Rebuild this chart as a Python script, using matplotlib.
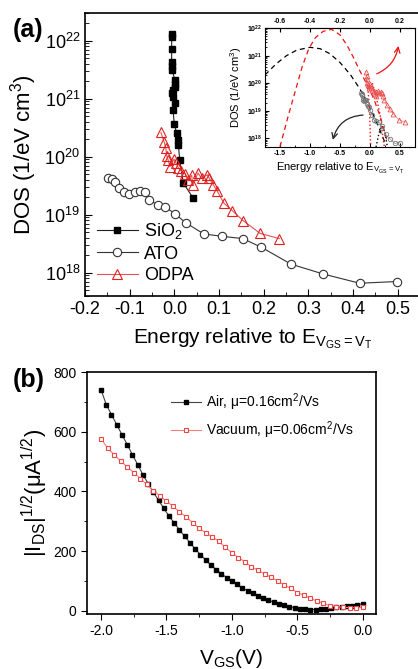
import numpy as np
import matplotlib
matplotlib.use("Agg")
import matplotlib.pyplot as plt
from matplotlib.ticker import MultipleLocator, LogLocator, NullFormatter, FixedLocator, FuncFormatter

plt.rcParams["font.family"] = ["Liberation Sans", "DejaVu Sans"]
plt.rcParams["mathtext.fontset"] = "custom"
plt.rcParams["mathtext.rm"] = "Liberation Sans"
plt.rcParams["mathtext.default"] = "regular"
plt.rcParams["axes.unicode_minus"] = False

# ---- panel (a): DOS vs energy (values as log10) ----
sio2_E = [-0.006, -0.006, -0.006, -0.006, -0.006, -0.005, 0.001, 0.001, 0.001, -0.003,
          -0.006, -0.004, 0.001, -0.003, 0.0, 0.005, 0.008, 0.009, 0.012, 0.020, 0.042]
sio2_log = [22.12, 22.06, 21.86, 21.64, 21.56, 21.50, 21.33, 21.26, 21.21, 21.16,
            21.10, 21.04, 20.93, 20.81, 20.56, 20.41, 20.29, 20.21, 19.95, 19.55, 19.29]

ato_E = [-0.148, -0.140, -0.133, -0.123, -0.113, -0.101, -0.088, -0.077, -0.066, -0.056,
         -0.036, -0.021, 0.001, 0.026, 0.066, 0.106, 0.153, 0.195, 0.261, 0.333, 0.415, 0.499]
ato_log = [19.63, 19.62, 19.57, 19.47, 19.39, 19.36, 19.40, 19.41, 19.39, 19.25,
           19.17, 19.14, 19.02, 18.86, 18.67, 18.63, 18.59, 18.44, 18.15, 17.98, 17.82, 17.85]

odpa_E = [-0.030, -0.023, -0.019, -0.017, -0.014, -0.010, -0.001, 0.004, 0.009, 0.016,
          0.024, 0.030, 0.039, 0.041, 0.053, 0.061, 0.074, 0.078, 0.087, 0.096,
          0.111, 0.130, 0.154, 0.192, 0.235]
odpa_log = [20.42, 20.26, 20.15, 20.02, 19.95, 19.83, 19.96, 19.89, 19.81, 19.75,
            19.71, 19.60, 19.68, 19.52, 19.72, 19.63, 19.69, 19.63, 19.52, 19.41,
            19.20, 19.07, 18.90, 18.68, 18.59]

# inset fit curves (bottom-axis energy, log10 DOS)
blk_dash_E = [-1.75, -1.56, -1.39, -1.22, -1.0, -0.83, -0.67, -0.5, -0.33, -0.17, -0.06, 0.05, 0.15, 0.25]
blk_dash_log = [20.30, 20.71, 21.00, 21.20, 21.30, 21.25, 21.07, 20.75, 20.32, 19.80, 19.35, 18.88, 18.38, 17.85]
red_dash_E = [-1.5, -1.36, -1.25, -1.13, -1.02, -0.91, -0.78, -0.64, -0.5, -0.39, -0.28, -0.17, -0.06, 0.06, 0.17, 0.28]
red_dash_log = [17.70, 18.84, 19.68, 20.60, 21.25, 21.65, 21.88, 21.95, 21.75, 21.40, 20.95, 20.45, 20.00, 19.45, 18.80, 17.95]
red_dot1_E = [-0.06, -0.03, -0.01, 0.0, 0.01]
red_dot1_log = [20.10, 19.68, 19.10, 18.50, 17.70]
red_dot2_E = [0.04, 0.11, 0.17, 0.21, 0.24]
red_dot2_log = [20.00, 19.44, 18.84, 18.12, 17.69]
blk_dot_E = [0.10, 0.15, 0.20, 0.25, 0.29]
blk_dot_log = [17.69, 18.20, 18.45, 18.20, 17.69]
top_ticks = [-0.6, -0.4, -0.2, 0.0, 0.2]

# ---- panel (b): sqrt(I_DS) vs V_GS ----
air_V = np.round(np.arange(-2.0, 0.001, 0.04), 2)
air_I = [741, 691, 657, 624, 590, 557, 523, 490, 456, 426,
         397, 370, 343, 317, 294, 271, 249, 228, 207, 188,
         170, 153, 138, 124, 111, 99, 88, 77, 67, 58,
         50, 42, 35, 29, 23, 18, 14, 10, 7, 5,
         4, 4, 5, 7, 9, 11, 13, 15, 17, 20, 23]
vac_V = np.round(np.arange(-2.0, 0.001, 0.05), 2)
vac_I = [577, 545, 523, 502, 482, 463, 443, 423, 402, 385,
         367, 350, 331, 315, 295, 276, 261, 248, 233, 212,
         195, 178, 164, 147, 136, 123, 112, 100, 86, 75,
         61, 52, 41, 33, 25, 17, 13, 12, 10, 10, 11]

W, H = 418, 669
fig = plt.figure(figsize=(W / 100, H / 100), dpi=100)

# ================= panel (a) =================
ax = fig.add_axes([85 / W, 1 - 296 / H, 335 / W, 283 / H])
ax.plot(sio2_E, np.power(10.0, sio2_log), "-", color="#222222", lw=0.8,
        marker="s", ms=4, mfc="black", mec="black", label="SiO$_2$")
ax.plot(ato_E, np.power(10.0, ato_log), "-", color="#333333", lw=0.8,
        marker="o", ms=6, mfc="white", mec="#333333", mew=0.8, label="ATO")
ax.plot(odpa_E, np.power(10.0, odpa_log), "-", color="#e05555", lw=0.8,
        marker="^", ms=7, mfc="none", mec="#e02020", mew=0.8, label="ODPA")
ax.set_yscale("log")
ax.set_xlim(-0.2, 0.55)
ax.set_ylim(10 ** 17.6, 10 ** 22.48)
ax.xaxis.set_major_locator(MultipleLocator(0.1))
ax.xaxis.set_minor_locator(MultipleLocator(0.05))
ax.xaxis.set_major_formatter(FuncFormatter(lambda v, p: f"{v:.1f}"))
ax.yaxis.set_major_locator(LogLocator(base=10, numticks=10))
ax.yaxis.set_minor_locator(LogLocator(base=10, subs=np.arange(2, 10), numticks=20))
ax.yaxis.set_minor_formatter(NullFormatter())
ax.tick_params(which="both", direction="in", top=False, right=False)
ax.tick_params(which="major", length=5, labelsize=13)
ax.tick_params(which="minor", length=3)
for s in ax.spines.values():
    s.set_linewidth(1.2)
ax.set_xlabel("Energy relative to E$_{V_{GS}=V_T}$", fontsize=15, labelpad=6)
ax.set_ylabel("DOS (1/eV cm$^3$)", fontsize=16, labelpad=4)
ax.legend(loc="upper left", bbox_to_anchor=(0.035, 0.265), frameon=False,
          fontsize=13, handlelength=2.3, handletextpad=0.3, labelspacing=0.25,
          borderpad=0, borderaxespad=0)
fig.text(0.03, 1 - 30 / H, "(a)", fontsize=18, fontweight="bold", va="center")

# ---- inset ----
ins = fig.add_axes([265 / W, 1 - 147 / H, 150 / W, 119 / H])
ins.plot(blk_dash_E, np.power(10.0, blk_dash_log), "--", color="black", lw=0.9, dashes=(4, 3))
ins.plot(red_dash_E, np.power(10.0, red_dash_log), "--", color="#ee1111", lw=0.9, dashes=(4, 3))
ins.plot(red_dot1_E, np.power(10.0, red_dot1_log), ":", color="#ee1111", lw=1.0)
ins.plot(red_dot2_E, np.power(10.0, red_dot2_log), ":", color="#ee1111", lw=1.0)
ins.plot(blk_dot_E, np.power(10.0, blk_dot_log), ":", color="black", lw=1.0)
ins.plot(ato_E, np.power(10.0, ato_log), "-", color="#888888", lw=0.5,
         marker="o", ms=3.2, mfc="none", mec="#777777", mew=0.6)
# ODPA belongs to the top energy scale (top = 0.4 * bottom)
ins.plot(np.array(odpa_E) / 0.4, np.power(10.0, odpa_log), "-", color="#f08080", lw=0.5,
         marker="^", ms=3.5, mfc="none", mec="#e85050", mew=0.6)
ins.set_yscale("log")
ins.set_xlim(-1.75, 0.75)
ins.set_ylim(10 ** 17.69, 1e22)
ins.xaxis.set_major_locator(MultipleLocator(0.5))
ins.xaxis.set_minor_locator(MultipleLocator(0.25))
ins.xaxis.set_major_formatter(FuncFormatter(lambda v, p: f"{v:.1f}"))
ins.yaxis.set_major_locator(LogLocator(base=10, numticks=10))
ins.yaxis.set_minor_locator(LogLocator(base=10, subs=np.arange(2, 10), numticks=20))
ins.yaxis.set_minor_formatter(NullFormatter())
ins.tick_params(which="both", direction="in", labelsize=5, pad=2)
ins.tick_params(which="major", length=3)
ins.tick_params(which="minor", length=1.5)
for lab in ins.get_xticklabels() + ins.get_yticklabels():
    lab.set_fontweight("bold")
top = ins.secondary_xaxis("top", functions=(lambda x: 0.4 * x, lambda x: x / 0.4))
top.xaxis.set_major_locator(FixedLocator(top_ticks))
top.tick_params(direction="in", labelsize=5, length=3, pad=2)
top.xaxis.set_major_formatter(FuncFormatter(lambda v, p: f"{v:.1f}"))
for lab in top.get_xticklabels():
    lab.set_fontweight("bold")
ins.set_xlabel("Energy relative to E$_{V_{GS}=V_T}$", fontsize=8, labelpad=3)
ins.set_ylabel("DOS (1/eV cm$^3$)", fontsize=8, labelpad=2)
ins.annotate("", xy=(0.48, 10 ** 21.45), xytext=(0.07, 10 ** 20.3),
             arrowprops=dict(arrowstyle="->", color="#ee1111", lw=0.9,
                             connectionstyle="arc3,rad=0.3"))
ins.annotate("", xy=(-0.63, 10 ** 17.85), xytext=(-0.07, 10 ** 18.85),
             arrowprops=dict(arrowstyle="->", color="#222222", lw=0.9,
                             connectionstyle="arc3,rad=0.4"))

# ================= panel (b) =================
bx = fig.add_axes([87 / W, 1 - 614 / H, 289 / W, 242 / H])
bx.plot(air_V, air_I, "-", color="#444444", lw=0.8, marker="s", ms=3.2,
        mfc="black", mec="black", label="Air, μ=0.16cm$^2$/Vs")
bx.plot(vac_V, vac_I, "-", color="#f08080", lw=0.8, marker="s", ms=3.5,
        mfc="white", mec="#ee4444", mew=0.8, label="Vacuum, μ=0.06cm$^2$/Vs")
bx.set_xlim(-2.107, 0.102)
bx.set_ylim(-11, 800)
bx.xaxis.set_major_locator(MultipleLocator(0.5))
bx.xaxis.set_minor_locator(MultipleLocator(0.25))
bx.xaxis.set_major_formatter(FuncFormatter(lambda v, p: f"{v:.1f}"))
bx.yaxis.set_major_locator(MultipleLocator(200))
bx.yaxis.set_minor_locator(MultipleLocator(100))
bx.tick_params(which="both", direction="out", labelsize=10)
bx.tick_params(which="major", length=4)
bx.tick_params(which="minor", length=2.5)
for s in bx.spines.values():
    s.set_linewidth(1.2)
bx.set_xlabel("V$_{GS}$(V)", fontsize=15, labelpad=6)
bx.set_ylabel("|I$_{DS}$|$^{1/2}$(μA$^{1/2}$)", fontsize=16, labelpad=2)
bx.legend(loc="upper left", bbox_to_anchor=(0.29, 0.92), frameon=False,
          fontsize=10, handlelength=2.2, handletextpad=0.3, labelspacing=0.45,
          borderpad=0, borderaxespad=0)
fig.text(0.03, 1 - 380 / H, "(b)", fontsize=18, fontweight="bold", va="center")

fig.savefig("out.png", dpi=100)
